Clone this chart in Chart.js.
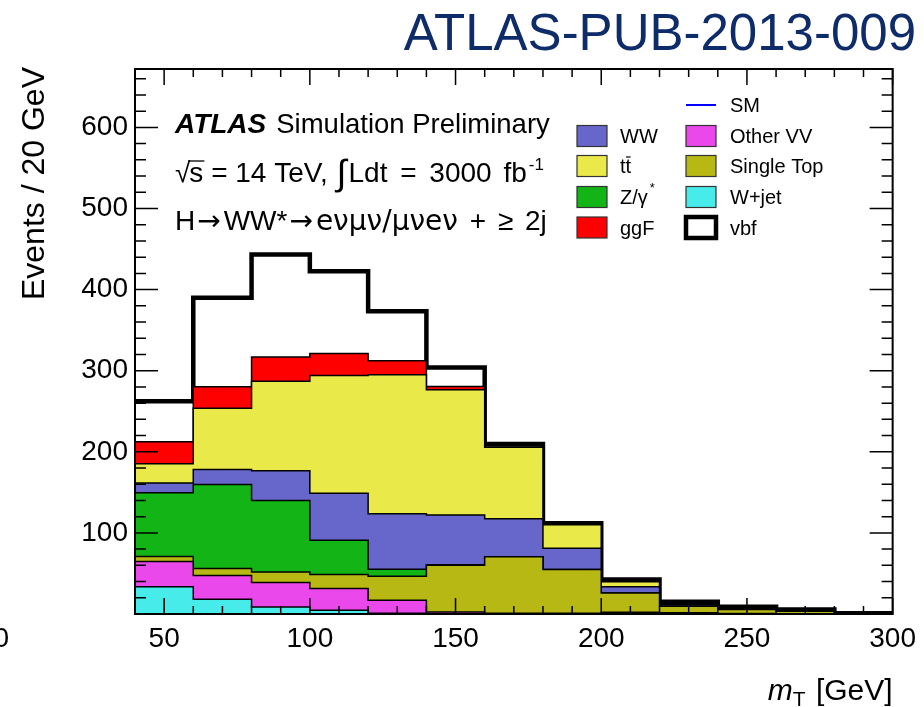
<!DOCTYPE html>
<html>
<head>
<meta charset="utf-8">
<script src="https://cdn.jsdelivr.net/npm/chart.js@4.4.1/dist/chart.umd.min.js"></script>
<style>
  html, body { margin: 0; padding: 0; background: #fff; }
  canvas { display: block; }
</style>
</head>
<body>
<canvas id="mt" width="924" height="707"></canvas>
<script>
// Transverse-mass bin edges [GeV], 20 GeV per bin
const mtEdges = [40, 60, 80, 100, 120, 140, 160, 180, 200, 220, 240, 260, 280, 300];

// Expected events per bin for each process, listed from the bottom of the stack up
const wjet      = [33.5, 18.3,   8.7,   4.7,   1.0,   0.3,  0.0,  0.0,  0.0, 0.0, 0.0, 0.0, 0.0];
const otherVV   = [31.2, 29.2,  30.0,  26.7,  16.0,   2.2,  1.0,  1.0,  2.2, 1.5, 0.5, 0.3, 0.1];
const singleTop = [ 6.3,  8.6,  13.0,  17.3,  29.6,  57.7, 69.5, 54.0, 23.8, 8.1, 5.0, 3.2, 0.3];
const zgamma    = [78.4, 103.6, 88.1,  42.3,   8.6,   0.5,  0.0,  0.0,  0.0, 0.0, 0.0, 0.0, 0.0];
const ww        = [12.1, 18.5,  36.7,  58.0,  68.5,  61.3, 46.9, 26.0,  7.5, 1.9, 0.5, 0.3, 0.1];
const ttbar     = [23.8, 75.4, 110.5, 145.0, 171.3, 154.4, 88.1, 29.0,  6.2, 1.5, 0.5, 0.2, 0.1];
const ggF       = [27.2, 26.7,  29.8,  27.2,  17.2,   4.1,  0.5,  0.3,  0.3, 0.0, 0.0, 0.0, 0.0];
const vbf       = [49.9, 109.6, 126.5, 101.5, 61.2,  23.5,  3.5,  1.7,  2.5, 2.2, 2.4, 1.5, 0.4];

// Axis labels
const xTickValues = [50, 100, 150, 200, 250, 300];
const yTickValues = [100, 200, 300, 400, 500, 600];

const FONT = "'Liberation Sans', Arial, Helvetica, sans-serif";
const SYMBOL_FONT = "'DejaVu Sans', 'Liberation Sans', sans-serif";

const processes = [
  { label: 'W+jet',       values: wjet,      color: '#47ebea' },
  { label: 'Other VV',    values: otherVV,   color: '#ea48ea' },
  { label: 'Single Top',  values: singleTop, color: '#b8b815' },
  { label: 'Z/\u03b3*',   values: zgamma,    color: '#13b516' },
  { label: 'WW',          values: ww,        color: '#6767cb' },
  { label: 'ttbar',       values: ttbar,     color: '#e9e94a' },
  { label: 'ggF',         values: ggF,       color: '#fe0000' },
  { label: 'vbf',         values: vbf,       color: '#ffffff', thick: true }
];

// Each process is drawn as a cumulative step histogram filled down to zero;
// the first dataset is painted last, so the stack reads bottom-up.
let running = new Array(mtEdges.length - 1).fill(0);
const datasets = processes.map(p => {
  running = running.map((r, i) => r + p.values[i]);
  const tops = running.slice();
  return {
    label: p.label,
    data: mtEdges.map((e, i) => ({ x: e, y: tops[Math.min(i, tops.length - 1)] })),
    stepped: true,
    fill: 'origin',
    backgroundColor: p.color,
    borderColor: '#000',
    borderWidth: p.thick ? 4.5 : 1.5,
    borderJoinStyle: 'miter',
    borderCapStyle: 'butt',
    pointRadius: 0,
    pointHoverRadius: 0,
    tension: 0
  };
});

// Frame with inward ticks on all four sides
const frameAndTicks = {
  id: 'frameAndTicks',
  afterDatasetsDraw(chart) {
    const { ctx, chartArea: a, scales: { x, y } } = chart;
    ctx.save();
    ctx.strokeStyle = '#000';
    ctx.lineWidth = 1.5;
    ctx.beginPath();
    for (let v = x.min; v <= x.max; v += 10) {
      const px = x.getPixelForValue(v);
      const len = v % 50 === 0 ? 16 : 8;
      ctx.moveTo(px, a.bottom); ctx.lineTo(px, a.bottom - len);
      ctx.moveTo(px, a.top);    ctx.lineTo(px, a.top + len);
    }
    for (let v = 0; v <= y.max; v += 20) {
      const py = y.getPixelForValue(v);
      const len = v % 100 === 0 ? 23 : 11;
      ctx.moveTo(a.left, py);  ctx.lineTo(a.left + len, py);
      ctx.moveTo(a.right, py); ctx.lineTo(a.right - len, py);
    }
    ctx.stroke();
    ctx.lineWidth = 2;
    ctx.strokeRect(a.left, a.top, a.right - a.left, a.bottom - a.top);
    ctx.restore();
  }
};

function drawRuns(ctx, x, y, parts) {
  for (const p of parts) {
    ctx.font = p.font;
    x += (p.pre || 0);
    ctx.fillText(p.t, x, y + (p.dy || 0));
    x += ctx.measureText(p.t).width + (p.gap || 0);
  }
  return x;
}
function runsWidth(ctx, parts) {
  let w = 0;
  for (const p of parts) { ctx.font = p.font; w += (p.pre || 0) + ctx.measureText(p.t).width + (p.gap || 0); }
  return w;
}

// Labels, legend and axis titles
const annotations = {
  id: 'annotations',
  afterDraw(chart) {
    const { ctx, chartArea: a } = chart;
    ctx.save();
    ctx.textBaseline = 'alphabetic';
    ctx.textAlign = 'left';

    // document reference, top right
    ctx.fillStyle = '#0f2c6a';
    ctx.font = `51px ${FONT}`;
    ctx.textAlign = 'right';
    ctx.fillText('ATLAS-PUB-2013-009', 916, 50);
    ctx.textAlign = 'left';

    ctx.fillStyle = '#000';
    ctx.strokeStyle = '#000';

    // ATLAS label
    const fs = 28;
    const norm = `${fs}px ${FONT}`;
    drawRuns(ctx, 175, 133, [
      { t: 'ATLAS', font: `italic bold ${fs}px ${FONT}`, gap: 10 },
      { t: 'Simulation Preliminary', font: `27.5px ${FONT}` }
    ]);

    // centre-of-mass energy and luminosity
    let x = 175;
    const base2 = 182;
    ctx.font = norm;
    ctx.fillText('\u221a', x, base2);
    x += ctx.measureText('\u221a').width - 1;
    const sW = ctx.measureText('s').width;
    ctx.fillText('s', x, base2);
    ctx.lineWidth = 1.3;
    ctx.beginPath();
    ctx.moveTo(x - 1, base2 - 21); ctx.lineTo(x + sW + 1, base2 - 21);
    ctx.stroke();
    x += sW;
    drawRuns(ctx, x, base2, [
      { t: ' = 14 TeV,', font: norm, gap: 9 },
      { t: '\u222b', font: `36px ${FONT}`, dy: 3, gap: 2 },
      { t: 'Ldt', font: norm, gap: 5 },
      { t: ' = ', font: norm, gap: 5 },
      { t: '3000', font: norm, gap: 4 },
      { t: ' fb', font: norm, gap: 2 },
      { t: '-1', font: `17px ${FONT}`, dy: -12 }
    ]);

    // decay channel
    drawRuns(ctx, 175, 230, [
      { t: 'H', font: norm, gap: 2 },
      { t: '\u2192', font: `28px ${SYMBOL_FONT}`, gap: 3 },
      { t: 'WW*', font: norm, gap: 2 },
      { t: '\u2192', font: `28px ${SYMBOL_FONT}`, gap: 3 },
      { t: 'e\u03bd\u03bc\u03bd/\u03bc\u03bde\u03bd', font: `28px ${SYMBOL_FONT}`, gap: 4 },
      { t: ' + ', font: norm, gap: 4 },
      { t: '\u2265', font: norm, gap: 4 },
      { t: ' 2j', font: norm }
    ]);

    // legend
    const lfs = 20;
    const rows = [136, 166, 197, 227.5];
    const boxH = 21, boxW = 30;
    const colBox = [577, 686];
    const colTxt = [620, 730];
    const legendItems = [
      { col: 0, row: 0, p: processes[4], text: 'WW' },
      { col: 0, row: 1, p: processes[5], text: 'tt' },
      { col: 0, row: 2, p: processes[3], text: 'Z/\u03b3' },
      { col: 0, row: 3, p: processes[6], text: 'ggF' },
      { col: 1, row: 0, p: processes[1], text: 'Other VV' },
      { col: 1, row: 1, p: processes[2], text: 'Single Top' },
      { col: 1, row: 2, p: processes[0], text: 'W+jet' },
      { col: 1, row: 3, p: processes[7], text: 'vbf' }
    ];
    for (const it of legendItems) {
      const cy = rows[it.row];
      const bx = colBox[it.col];
      ctx.fillStyle = it.p.color;
      ctx.fillRect(bx, cy - boxH / 2, boxW, boxH);
      ctx.strokeStyle = it.p.thick ? '#000' : '#333';
      ctx.lineWidth = it.p.thick ? 4.5 : 1.2;
      ctx.strokeRect(bx, cy - boxH / 2, boxW, boxH);
      ctx.fillStyle = '#000';
      ctx.font = `${lfs}px ${FONT}`;
      const tx = colTxt[it.col], ty = cy + 7;
      ctx.fillText(it.text, tx, ty);
      if (it.text === 'tt') {
        const w1 = ctx.measureText('t').width;
        const w2 = ctx.measureText('tt').width;
        ctx.strokeStyle = '#000'; ctx.lineWidth = 1.2;
        ctx.beginPath();
        ctx.moveTo(tx + w1 + 0.5, ty - 16); ctx.lineTo(tx + w2 - 0.5, ty - 16);
        ctx.stroke();
      }
      if (it.text === 'Z/\u03b3') {
        const w = ctx.measureText(it.text).width;
        ctx.font = `13px ${FONT}`;
        ctx.fillText('*', tx + w + 2, ty - 12);
      }
    }
    // SM entry: line only
    ctx.strokeStyle = '#0000ff';
    ctx.lineWidth = 2;
    ctx.beginPath();
    ctx.moveTo(686, 105); ctx.lineTo(716, 105);
    ctx.stroke();
    ctx.fillStyle = '#000';
    ctx.font = `${lfs}px ${FONT}`;
    ctx.fillText('SM', 730, 112);

    // x-axis title
    const titleParts = [
      { t: 'm', font: `italic 30px ${FONT}` },
      { t: 'T', font: `21px ${FONT}`, dy: 6, gap: 2 },
      { t: ' [GeV]', font: `30px ${FONT}` }
    ];
    drawRuns(ctx, a.right - runsWidth(ctx, titleParts), 700, titleParts);

    // y-axis title, aligned to the top of the axis
    ctx.save();
    ctx.translate(44, a.top - 2);
    ctx.rotate(-Math.PI / 2);
    ctx.textAlign = 'right';
    ctx.font = `32px ${FONT}`;
    ctx.fillText('Events / 20 GeV', 0, 0);
    ctx.restore();

    // stray axis digit at the left edge of the canvas
    ctx.font = `28px ${FONT}`;
    ctx.textAlign = 'right';
    ctx.fillText('0', 9, 647);

    ctx.restore();
  }
};

new Chart(document.getElementById('mt').getContext('2d'), {
  type: 'line',
  data: { datasets },
  options: {
    responsive: false,
    animation: false,
    events: [],
    layout: { padding: { top: 69, right: 31, left: 0, bottom: 0 } },
    plugins: {
      legend: { display: false },
      tooltip: { enabled: false },
      filler: { propagate: false }
    },
    scales: {
      x: {
        type: 'linear',
        min: 40,
        max: 300,
        afterFit: s => { s.height = 93; },
        afterBuildTicks: s => { s.ticks = xTickValues.map(v => ({ value: v })); },
        grid: { display: false, drawTicks: false },
        border: { display: false },
        ticks: { autoSkip: false, maxRotation: 0, padding: 8, color: '#000', font: { family: FONT, size: 28 } }
      },
      y: {
        type: 'linear',
        min: 0,
        max: 672,
        afterFit: s => { s.width = 135; },
        afterBuildTicks: s => { s.ticks = yTickValues.map(v => ({ value: v })); },
        grid: { display: false, drawTicks: false },
        border: { display: false },
        ticks: { autoSkip: false, padding: 7, color: '#000', font: { family: FONT, size: 28 } }
      }
    }
  },
  plugins: [frameAndTicks, annotations]
});
</script>
</body>
</html>
